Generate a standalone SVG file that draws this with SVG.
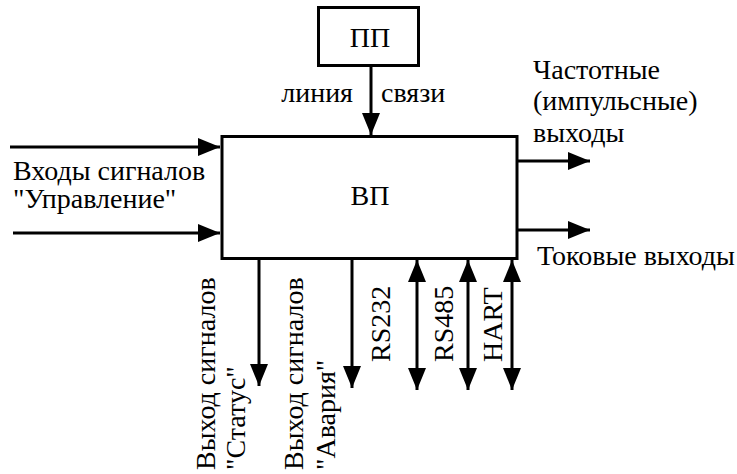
<svg xmlns="http://www.w3.org/2000/svg" width="737" height="474" viewBox="0 0 737 474">
<style>
text{font-family:'Liberation Serif','Times New Roman',serif;font-size:28px;fill:#000}
.box{fill:#fff;stroke:#000;stroke-width:3}
.ln{stroke:#000;stroke-width:3;fill:none}
.a{marker-end:url(#ah)}
.d{marker-end:url(#ah);marker-start:url(#ah)}
</style>
<defs>
<marker id="ah" markerUnits="userSpaceOnUse" markerWidth="22" markerHeight="18" refX="22" refY="9" orient="auto-start-reverse">
<path d="M0,0 L22,9 L0,18 z" fill="#000"/>
</marker>
</defs>
<rect width="737" height="474" fill="#fff"/>
<g id="connectors">
<line class="ln a" x1="371" y1="66" x2="371" y2="135"/>
<line class="ln a" x1="10" y1="147" x2="220" y2="147"/>
<line class="ln a" x1="13" y1="233" x2="220" y2="233"/>
<line class="ln a" x1="518" y1="161" x2="590" y2="161"/>
<line class="ln a" x1="518" y1="230" x2="590" y2="230"/>
<line class="ln a" x1="259" y1="259" x2="259" y2="386"/>
<line class="ln a" x1="352" y1="259" x2="352" y2="388"/>
<line class="ln d" x1="417" y1="260" x2="417" y2="390"/>
<line class="ln d" x1="468" y1="260" x2="468" y2="390"/>
<line class="ln d" x1="512" y1="260" x2="512" y2="390"/>
</g>
<g id="node-pp">
<rect class="box" x="318.5" y="7.5" width="100" height="58"/>
<text x="370" y="47" text-anchor="middle">ПП</text>
</g>
<g id="node-vp">
<rect class="box" x="222" y="136.5" width="295" height="122"/>
<text x="370" y="205" text-anchor="middle">ВП</text>
</g>
<g id="labels">
<text x="353" y="102" text-anchor="end">линия</text>
<text x="381" y="102">связи</text>
<text x="13" y="180">Входы сигналов</text>
<text x="13" y="208">"Управление"</text>
<text x="533" y="79">Частотные</text>
<text x="533" y="110">(импульсные)</text>
<text x="533" y="142">выходы</text>
<text x="537" y="265">Токовые выходы</text>
<text transform="translate(215,470) rotate(-90)">Выход сигналов</text>
<text transform="translate(245,470) rotate(-90)">"Статус"</text>
<text transform="translate(303,470) rotate(-90)">Выход сигналов</text>
<text transform="translate(335,470) rotate(-90)">"Авария"</text>
<text transform="translate(390,362) rotate(-90)">RS232</text>
<text transform="translate(453,362) rotate(-90)">RS485</text>
<text transform="translate(502,362) rotate(-90)">HART</text>
</g>
</svg>
